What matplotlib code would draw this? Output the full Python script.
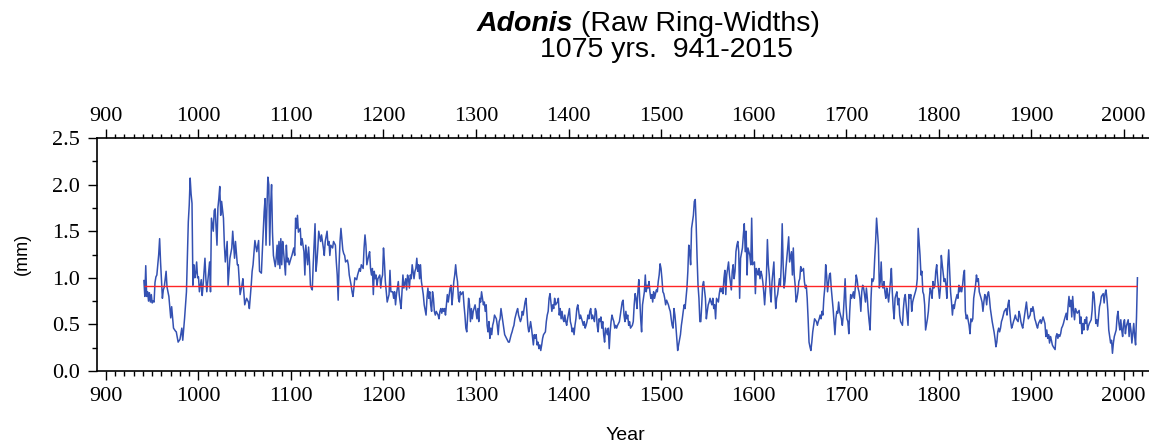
import matplotlib
matplotlib.use("Agg")
import matplotlib.pyplot as plt
from matplotlib.ticker import MultipleLocator, FixedLocator, FormatStrFormatter

# ring widths (mm)
years = [
    941, 942, 943, 944, 945, 946, 947, 948, 949, 950,
    951, 952, 953, 954, 955, 957, 958, 959, 961, 962,
    963, 965, 966, 968, 970, 971, 973, 975, 976, 978,
    980, 981, 982, 983, 985, 987, 989, 990, 991, 992,
    993, 994, 995, 996, 997, 998, 999, 1000, 1001, 1003,
    1004, 1005, 1007, 1008, 1009, 1011, 1012, 1013, 1014, 1016,
    1017, 1018, 1019, 1020, 1021, 1022, 1023, 1024, 1025, 1027,
    1028, 1029, 1031, 1032, 1034, 1036, 1037, 1039, 1040, 1042,
    1043, 1045, 1047, 1048, 1050, 1052, 1054, 1055, 1057, 1058,
    1059, 1061, 1063, 1065, 1066, 1068, 1069, 1071, 1072, 1073,
    1074, 1075, 1076, 1077, 1078, 1079, 1080, 1081, 1083, 1084,
    1085, 1086, 1087, 1088, 1089, 1090, 1091, 1092, 1094, 1095,
    1096, 1097, 1098, 1100, 1101, 1103, 1104, 1105, 1106, 1107,
    1108, 1110, 1111, 1112, 1114, 1115, 1116, 1118, 1119, 1120,
    1121, 1122, 1123, 1124, 1126, 1127, 1128, 1129, 1130, 1132,
    1133, 1135, 1136, 1137, 1139, 1140, 1141, 1142, 1143, 1145,
    1146, 1148, 1149, 1150, 1151, 1152, 1153, 1154, 1156, 1157,
    1158, 1159, 1161, 1162, 1163, 1165, 1166, 1167, 1168, 1169,
    1171, 1172, 1174, 1175, 1176, 1178, 1179, 1180, 1181, 1182,
    1184, 1185, 1186, 1187, 1188, 1189, 1190, 1191, 1192, 1193,
    1194, 1196, 1197, 1198, 1199, 1200, 1201, 1202, 1203, 1204,
    1205, 1206, 1207, 1208, 1210, 1211, 1212, 1213, 1214, 1215,
    1216, 1217, 1218, 1219, 1220, 1221, 1222, 1224, 1225, 1226,
    1227, 1228, 1229, 1230, 1231, 1233, 1234, 1235, 1236, 1237,
    1238, 1239, 1240, 1241, 1242, 1243, 1244, 1246, 1247, 1248,
    1249, 1250, 1251, 1252, 1253, 1254, 1255, 1256, 1257, 1259,
    1260, 1261, 1262, 1263, 1264, 1265, 1266, 1267, 1268, 1269,
    1270, 1272, 1273, 1274, 1275, 1276, 1277, 1278, 1279, 1280,
    1281, 1282, 1283, 1284, 1286, 1287, 1288, 1289, 1290, 1291,
    1292, 1293, 1294, 1295, 1296, 1297, 1299, 1300, 1301, 1302,
    1303, 1304, 1305, 1306, 1308, 1309, 1310, 1311, 1312, 1313,
    1314, 1315, 1316, 1317, 1318, 1319, 1320, 1322, 1323, 1324,
    1325, 1326, 1327, 1328, 1329, 1330, 1331, 1332, 1333, 1335,
    1336, 1337, 1338, 1339, 1340, 1341, 1342, 1343, 1344, 1345,
    1346, 1348, 1349, 1350, 1351, 1352, 1353, 1354, 1355, 1356,
    1357, 1358, 1359, 1360, 1362, 1363, 1364, 1365, 1366, 1367,
    1368, 1369, 1370, 1371, 1372, 1373, 1375, 1376, 1377, 1378,
    1379, 1380, 1381, 1382, 1383, 1384, 1385, 1386, 1388, 1389,
    1390, 1391, 1392, 1393, 1394, 1395, 1396, 1397, 1398, 1399,
    1401, 1402, 1403, 1404, 1405, 1406, 1407, 1408, 1409, 1410,
    1411, 1412, 1413, 1415, 1416, 1417, 1418, 1419, 1420, 1421,
    1422, 1423, 1424, 1425, 1426, 1428, 1429, 1430, 1431, 1432,
    1433, 1434, 1435, 1436, 1437, 1438, 1439, 1440, 1442, 1443,
    1444, 1445, 1446, 1447, 1448, 1449, 1450, 1451, 1452, 1453,
    1455, 1456, 1457, 1458, 1459, 1460, 1461, 1462, 1463, 1464,
    1465, 1466, 1467, 1469, 1470, 1471, 1472, 1473, 1474, 1475,
    1476, 1477, 1478, 1479, 1480, 1482, 1483, 1484, 1485, 1486,
    1487, 1488, 1489, 1490, 1491, 1492, 1493, 1495, 1496, 1497,
    1498, 1499, 1500, 1501, 1502, 1503, 1504, 1505, 1506, 1508,
    1509, 1510, 1511, 1512, 1513, 1514, 1515, 1516, 1517, 1518,
    1519, 1521, 1522, 1523, 1524, 1525, 1526, 1527, 1528, 1529,
    1530, 1531, 1532, 1533, 1535, 1536, 1537, 1538, 1539, 1540,
    1541, 1542, 1543, 1544, 1545, 1546, 1548, 1549, 1550, 1551,
    1552, 1553, 1554, 1555, 1556, 1557, 1558, 1559, 1560, 1562,
    1563, 1564, 1565, 1566, 1567, 1568, 1569, 1570, 1571, 1572,
    1573, 1574, 1576, 1577, 1578, 1579, 1580, 1581, 1582, 1583,
    1584, 1585, 1586, 1588, 1589, 1590, 1591, 1592, 1593, 1594,
    1595, 1596, 1597, 1598, 1599, 1601, 1602, 1603, 1604, 1605,
    1606, 1607, 1608, 1609, 1610, 1611, 1612, 1614, 1615, 1616,
    1617, 1618, 1619, 1620, 1621, 1622, 1623, 1624, 1625, 1626,
    1628, 1629, 1630, 1631, 1632, 1633, 1634, 1635, 1636, 1637,
    1638, 1639, 1641, 1642, 1643, 1644, 1645, 1646, 1647, 1648,
    1649, 1650, 1651, 1652, 1654, 1655, 1656, 1657, 1658, 1659,
    1660, 1661, 1662, 1663, 1664, 1665, 1666, 1668, 1669, 1670,
    1671, 1672, 1673, 1674, 1675, 1676, 1677, 1678, 1679, 1680,
    1682, 1683, 1684, 1685, 1686, 1687, 1688, 1689, 1690, 1691,
    1692, 1693, 1695, 1696, 1697, 1698, 1699, 1700, 1701, 1702,
    1703, 1704, 1705, 1706, 1708, 1709, 1710, 1711, 1712, 1713,
    1714, 1715, 1716, 1717, 1718, 1719, 1721, 1722, 1723, 1724,
    1725, 1726, 1727, 1728, 1729, 1730, 1731, 1732, 1733, 1735,
    1736, 1737, 1738, 1739, 1740, 1741, 1742, 1743, 1744, 1745,
    1746, 1748, 1749, 1750, 1751, 1752, 1753, 1754, 1755, 1756,
    1757, 1758, 1759, 1761, 1762, 1763, 1764, 1765, 1766, 1767,
    1768, 1769, 1770, 1771, 1772, 1773, 1775, 1776, 1777, 1778,
    1779, 1780, 1781, 1782, 1783, 1784, 1785, 1786, 1788, 1789,
    1790, 1791, 1792, 1793, 1794, 1795, 1796, 1797, 1798, 1799,
    1801, 1802, 1803, 1804, 1806, 1807, 1808, 1809, 1810, 1811,
    1812, 1813, 1814, 1815, 1816, 1817, 1818, 1820, 1821, 1822,
    1823, 1824, 1825, 1826, 1827, 1828, 1829, 1830, 1831, 1833,
    1834, 1835, 1836, 1837, 1838, 1839, 1840, 1841, 1842, 1843,
    1844, 1846, 1847, 1848, 1849, 1850, 1851, 1852, 1853, 1854,
    1855, 1856, 1857, 1858, 1860, 1861, 1862, 1863, 1864, 1865,
    1866, 1867, 1868, 1869, 1870, 1871, 1873, 1874, 1875, 1876,
    1877, 1878, 1879, 1880, 1881, 1882, 1883, 1884, 1886, 1887,
    1888, 1889, 1890, 1891, 1892, 1893, 1894, 1895, 1896, 1897,
    1899, 1900, 1901, 1902, 1903, 1904, 1905, 1906, 1907, 1908,
    1909, 1910, 1911, 1913, 1915, 1916, 1917, 1918, 1919, 1920,
    1921, 1922, 1923, 1924, 1926, 1927, 1928, 1929, 1930, 1931,
    1932, 1933, 1934, 1935, 1936, 1938, 1939, 1940, 1941, 1942,
    1943, 1944, 1945, 1946, 1947, 1948, 1949, 1950, 1952, 1953,
    1954, 1955, 1956, 1957, 1958, 1959, 1960, 1961, 1962, 1963,
    1965, 1966, 1967, 1968, 1969, 1970, 1971, 1972, 1973, 1974,
    1975, 1976, 1978, 1979, 1980, 1981, 1982, 1983, 1984, 1985,
    1986, 1987, 1988, 1989, 1990, 1992, 1993, 1994, 1995, 1996,
    1997, 1998, 1999, 2000, 2001, 2002, 2003, 2005, 2006, 2007,
    2008, 2009, 2010, 2011, 2012, 2013, 2014, 2015,
]
widths = [
    0.97, 0.80, 1.13, 0.80, 0.85, 0.75, 0.84, 0.74, 0.82, 0.73,
    0.75, 0.74, 0.95, 1.01, 1.03, 1.25, 1.42, 1.17, 0.78, 0.87,
    0.90, 1.07, 0.90, 0.80, 0.57, 0.69, 0.46, 0.43, 0.42, 0.31,
    0.34, 0.40, 0.46, 0.33, 0.57, 0.85, 1.60, 1.78, 2.07, 1.90,
    1.80, 0.92, 1.14, 1.00, 1.05, 1.17, 1.00, 1.01, 0.85, 0.98,
    0.81, 0.92, 1.21, 0.99, 0.85, 1.06, 1.17, 0.85, 1.64, 1.50,
    1.72, 1.74, 1.55, 1.35, 1.75, 1.85, 1.98, 1.67, 1.82, 1.64,
    1.35, 1.17, 1.39, 0.92, 1.21, 1.32, 1.50, 1.21, 1.39, 1.14,
    1.14, 0.82, 0.92, 0.99, 0.71, 0.78, 0.74, 0.67, 0.92, 1.07,
    1.14, 1.40, 1.28, 1.40, 1.07, 1.05, 1.28, 1.71, 1.85, 1.35,
    1.75, 2.08, 2.00, 1.35, 1.78, 2.00, 1.49, 1.24, 1.12, 1.21,
    1.35, 1.14, 1.39, 1.10, 1.42, 1.14, 1.39, 1.28, 1.03, 1.35,
    1.17, 1.21, 1.14, 1.21, 1.24, 1.32, 1.24, 1.64, 1.53, 1.67,
    1.49, 1.53, 1.35, 1.42, 1.28, 1.03, 1.35, 1.14, 1.33, 1.17,
    0.92, 0.89, 0.87, 1.14, 1.58, 1.07, 1.17, 1.32, 1.50, 1.39,
    1.46, 1.32, 1.24, 1.39, 1.50, 1.35, 1.39, 1.24, 1.35, 1.32,
    1.39, 1.35, 1.17, 1.03, 0.76, 1.14, 1.39, 1.53, 1.30, 1.26,
    1.24, 1.17, 1.19, 1.14, 1.03, 0.92, 0.85, 0.80, 0.89, 1.00,
    0.98, 1.03, 1.10, 1.07, 1.14, 1.10, 1.32, 1.46, 1.35, 1.14,
    1.24, 1.28, 1.10, 1.03, 1.10, 0.82, 1.07, 0.99, 1.03, 0.92,
    0.99, 1.03, 0.89, 0.99, 1.03, 1.32, 1.17, 0.96, 0.85, 0.74,
    0.78, 0.82, 1.08, 0.85, 0.85, 0.78, 0.85, 0.71, 0.82, 0.89,
    0.96, 0.82, 0.74, 0.67, 0.85, 1.03, 0.89, 0.99, 0.87, 1.03,
    0.99, 0.89, 1.03, 0.99, 1.14, 0.99, 1.07, 1.10, 1.21, 1.07,
    1.14, 0.99, 1.14, 0.96, 0.89, 0.82, 0.71, 0.60, 0.78, 0.89,
    0.78, 0.85, 0.71, 0.64, 0.85, 0.78, 0.64, 0.60, 0.64, 0.60,
    0.56, 0.64, 0.67, 0.62, 0.67, 0.64, 0.67, 0.60, 0.71, 0.82,
    0.74, 0.89, 0.92, 0.71, 0.82, 0.96, 1.03, 1.14, 1.03, 0.96,
    0.78, 0.74, 0.85, 0.82, 0.85, 0.71, 0.60, 0.46, 0.42, 0.60,
    0.78, 0.71, 0.53, 0.67, 0.56, 0.64, 0.71, 0.64, 0.56, 0.67,
    0.53, 0.78, 0.74, 0.85, 0.71, 0.74, 0.64, 0.71, 0.49, 0.42,
    0.53, 0.35, 0.46, 0.39, 0.49, 0.53, 0.60, 0.56, 0.49, 0.39,
    0.53, 0.56, 0.67, 0.60, 0.53, 0.46, 0.39, 0.37, 0.35, 0.31,
    0.31, 0.35, 0.39, 0.42, 0.46, 0.49, 0.56, 0.60, 0.64, 0.67,
    0.60, 0.53, 0.56, 0.64, 0.60, 0.67, 0.74, 0.78, 0.64, 0.49,
    0.42, 0.46, 0.53, 0.46, 0.28, 0.39, 0.35, 0.39, 0.28, 0.31,
    0.24, 0.28, 0.22, 0.28, 0.35, 0.39, 0.42, 0.53, 0.60, 0.64,
    0.78, 0.83, 0.74, 0.64, 0.71, 0.67, 0.78, 0.71, 0.74, 0.78,
    0.60, 0.67, 0.56, 0.64, 0.56, 0.53, 0.60, 0.53, 0.49, 0.56,
    0.67, 0.53, 0.49, 0.42, 0.46, 0.39, 0.49, 0.56, 0.67, 0.71,
    0.64, 0.56, 0.60, 0.53, 0.49, 0.53, 0.46, 0.49, 0.53, 0.60,
    0.56, 0.64, 0.67, 0.56, 0.60, 0.53, 0.67, 0.64, 0.49, 0.42,
    0.56, 0.53, 0.58, 0.46, 0.53, 0.39, 0.31, 0.46, 0.39, 0.46,
    0.24, 0.42, 0.53, 0.60, 0.56, 0.53, 0.46, 0.49, 0.46, 0.49,
    0.53, 0.60, 0.67, 0.74, 0.76, 0.60, 0.53, 0.64, 0.56, 0.60,
    0.49, 0.53, 0.46, 0.49, 0.53, 0.71, 0.83, 0.78, 0.67, 0.85,
    0.98, 0.78, 0.56, 0.42, 0.71, 0.85, 1.03, 0.85, 0.92, 0.89,
    0.96, 0.85, 0.78, 0.82, 0.74, 0.85, 0.78, 0.87, 0.85, 0.96,
    1.03, 1.15, 1.10, 0.99, 0.85, 0.83, 0.78, 0.71, 0.76, 0.71,
    0.67, 0.64, 0.56, 0.49, 0.46, 0.67, 0.60, 0.49, 0.35, 0.22,
    0.28, 0.39, 0.49, 0.56, 0.64, 0.71, 0.67, 0.78, 0.89, 1.07,
    1.35, 1.28, 1.14, 1.53, 1.67, 1.82, 1.84, 1.57, 1.21, 0.92,
    0.78, 0.53, 0.53, 0.71, 0.92, 0.96, 0.78, 0.56, 0.64, 0.71,
    0.74, 0.78, 0.74, 0.71, 0.78, 0.67, 0.71, 0.56, 0.78, 0.74,
    0.83, 0.89, 0.85, 0.89, 0.83, 0.99, 1.08, 0.82, 1.03, 1.10,
    1.17, 1.03, 0.87, 1.07, 1.14, 0.99, 1.07, 1.28, 1.35, 1.39,
    1.28, 0.78, 1.21, 1.32, 1.46, 1.58, 1.28, 1.50, 1.03, 1.32,
    1.28, 1.24, 1.14, 1.64, 1.14, 1.17, 0.83, 1.10, 1.07, 1.03,
    1.10, 0.99, 1.07, 1.03, 0.96, 0.85, 0.71, 1.03, 1.41, 1.14,
    1.03, 0.85, 0.74, 0.96, 1.07, 1.17, 0.85, 0.67, 0.78, 0.82,
    0.99, 0.92, 1.14, 1.58, 1.14, 0.89, 0.96, 1.10, 1.21, 1.32,
    1.44, 1.17, 1.28, 1.03, 1.32, 1.03, 0.92, 0.74, 0.78, 0.85,
    0.96, 0.99, 1.12, 1.07, 1.10, 0.96, 0.89, 0.92, 0.78, 0.56,
    0.31, 0.26, 0.22, 0.31, 0.42, 0.49, 0.56, 0.53, 0.49, 0.53,
    0.56, 0.60, 0.56, 0.64, 0.60, 0.78, 0.89, 1.14, 1.03, 0.85,
    1.03, 1.05, 0.89, 0.78, 0.67, 0.53, 0.39, 0.56, 0.64, 0.62,
    0.74, 0.64, 0.56, 0.49, 0.60, 0.78, 0.99, 0.71, 0.56, 0.53,
    0.40, 0.64, 0.82, 0.78, 0.85, 0.78, 0.89, 1.03, 0.98, 0.89,
    0.85, 0.78, 0.64, 0.85, 0.92, 0.89, 0.74, 0.89, 0.78, 0.64,
    0.53, 0.44, 0.78, 0.99, 0.96, 0.99, 1.21, 1.39, 1.64, 1.35,
    0.89, 0.96, 1.17, 0.92, 0.89, 0.96, 0.85, 0.78, 0.89, 0.82,
    0.74, 0.96, 1.10, 0.85, 0.67, 0.56, 0.78, 0.82, 0.85, 0.71,
    0.78, 0.60, 0.53, 0.49, 0.67, 0.78, 0.82, 0.71, 0.60, 0.49,
    0.82, 0.78, 0.82, 0.64, 0.74, 0.78, 0.85, 0.89, 0.99, 1.53,
    1.39, 1.24, 1.03, 1.07, 0.85, 0.82, 0.71, 0.44, 0.56, 0.64,
    0.78, 0.89, 0.85, 0.78, 0.96, 0.89, 0.92, 1.07, 1.14, 0.99,
    0.78, 0.89, 1.24, 1.14, 0.96, 0.99, 0.92, 0.78, 1.14, 1.30,
    1.07, 0.85, 0.74, 0.60, 0.71, 0.67, 0.74, 0.82, 0.78, 0.92,
    0.85, 0.90, 0.85, 0.92, 1.03, 1.08, 0.64, 0.56, 0.60, 0.49,
    0.40, 0.56, 0.53, 0.56, 0.78, 0.85, 0.92, 1.03, 0.96, 0.99,
    0.85, 0.78, 0.74, 0.64, 0.74, 0.82, 0.80, 0.71, 0.82, 0.85,
    0.78, 0.67, 0.60, 0.53, 0.42, 0.35, 0.26, 0.31, 0.42, 0.46,
    0.42, 0.46, 0.53, 0.56, 0.60, 0.64, 0.67, 0.60, 0.71, 0.76,
    0.64, 0.53, 0.46, 0.49, 0.53, 0.56, 0.60, 0.56, 0.53, 0.64,
    0.60, 0.53, 0.49, 0.46, 0.53, 0.60, 0.67, 0.74, 0.64, 0.56,
    0.60, 0.67, 0.64, 0.69, 0.64, 0.56, 0.53, 0.49, 0.46, 0.51,
    0.53, 0.55, 0.51, 0.58, 0.51, 0.37, 0.44, 0.35, 0.39, 0.30,
    0.37, 0.33, 0.28, 0.26, 0.23, 0.37, 0.40, 0.35, 0.39, 0.37,
    0.40, 0.46, 0.48, 0.51, 0.55, 0.62, 0.55, 0.69, 0.80, 0.69,
    0.76, 0.58, 0.80, 0.65, 0.55, 0.67, 0.64, 0.62, 0.65, 0.51,
    0.58, 0.40, 0.51, 0.44, 0.55, 0.51, 0.58, 0.44, 0.48, 0.51,
    0.55, 0.65, 0.85, 0.83, 0.69, 0.51, 0.55, 0.48, 0.58, 0.69,
    0.73, 0.80, 0.83, 0.73, 0.83, 0.87, 0.78, 0.65, 0.44, 0.37,
    0.30, 0.33, 0.19, 0.30, 0.37, 0.44, 0.58, 0.64, 0.51, 0.44,
    0.55, 0.44, 0.37, 0.51, 0.55, 0.40, 0.48, 0.55, 0.37, 0.51,
    0.44, 0.30, 0.40, 0.51, 0.37, 0.28, 0.58, 1.00,
]
assert len(years) == len(widths)

mean_width = 0.91
first_year, last_year = 941, 2015
species = "Adonis"
subtitle = " (Raw Ring-Widths)"
span_text = "1075 yrs.  941-2015"
year_ticks = list(range(900, 2001, 100))
year_minor = list(range(890, 2028, 10))

tick_font = "Liberation Serif"
label_font = "Liberation Sans"

W, H = 1149, 444
fig = plt.figure(figsize=(W / 100, H / 100), dpi=100)
ax = fig.add_axes([97 / W, 1 - 371 / H, 1 - 97 / W, (371 - 138) / H])

ax.plot(years, widths, color="#3451b2", lw=1.1)
ax.hlines(mean_width, first_year, last_year, color="#ff2525", lw=1.0)

ax.set_xlim(890.3, 2027.5)
ax.set_ylim(0, 2.5)
ax.xaxis.set_major_locator(FixedLocator(year_ticks))
ax.xaxis.set_minor_locator(FixedLocator(year_minor))
ax.yaxis.set_major_locator(MultipleLocator(0.5))
ax.yaxis.set_minor_locator(MultipleLocator(0.25))
ax.yaxis.set_major_formatter(FormatStrFormatter("%.1f"))

ax.tick_params(axis="x", which="both", direction="out", top=False, width=1.0)
ax.tick_params(axis="x", which="major", length=6.5, pad=5)
ax.tick_params(axis="x", which="minor", length=3.5)
ax.tick_params(axis="y", which="both", direction="out", right=False, width=1.0)
ax.tick_params(axis="y", which="major", length=6.5, pad=6)
ax.tick_params(axis="y", which="minor", length=3.5)

# top year axis, same scale, own label spacing
top = ax.secondary_xaxis("top")
top.xaxis.set_major_locator(FixedLocator(year_ticks))
top.xaxis.set_minor_locator(FixedLocator(year_minor))
top.tick_params(axis="x", which="both", direction="out", width=1.0)
top.tick_params(axis="x", which="major", length=6.5, pad=2)
top.tick_params(axis="x", which="minor", length=3.2)
top.spines["top"].set_linewidth(1.2)

for lab in ax.get_xticklabels() + ax.get_yticklabels() + top.get_xticklabels():
    lab.set_fontfamily(tick_font)
    lab.set_fontsize(16)

ax.spines["right"].set_visible(False)
ax.spines["top"].set_visible(False)
for side in ("left", "bottom"):
    ax.spines[side].set_linewidth(1.2)

# title lines
fig.text(573 / W, 1 - 31 / H, species, ha="right", va="baseline",
         fontsize=20.5, fontweight="bold", fontstyle="italic", family=label_font)
fig.text(573 / W, 1 - 31 / H, subtitle, ha="left", va="baseline",
         fontsize=20.5, family=label_font)
fig.text(667 / W, 1 - 57 / H, span_text, ha="center", va="baseline",
         fontsize=20.5, family=label_font)

fig.text(22 / W, 1 - 254 / H, "(mm)", rotation=90, ha="center", va="center",
         fontsize=13, family=label_font)
fig.text(625 / W, 1 - 440 / H, "Year", ha="center", va="baseline", fontsize=14,
         family=label_font)

fig.savefig("out.png", dpi=100)
